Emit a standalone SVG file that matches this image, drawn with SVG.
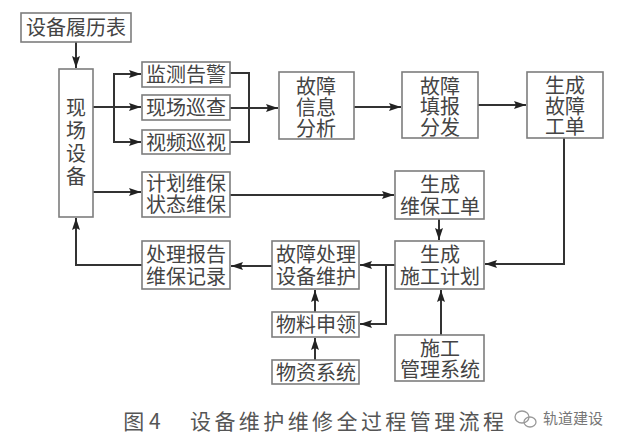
<svg xmlns="http://www.w3.org/2000/svg" width="622" height="446" viewBox="0 0 622 446">
<style>
.b{fill:#fff;stroke:#7d7d7d;stroke-width:1.6}
text{font-family:"Noto Sans CJK SC","Noto Sans",sans-serif;font-size:20px;fill:#444;text-anchor:middle;font-weight:400}
.c{fill:none;stroke:#333;stroke-width:2}
.cap{font-size:21px;fill:#555}
.wm{font-size:15px;fill:#777}
</style>
<defs>
<marker id="a" markerUnits="userSpaceOnUse" markerWidth="13" markerHeight="8" refX="12" refY="4" orient="auto"><path d="M0 0L12 4L0 8L2 4Z" fill="#222"/></marker>
</defs>
<rect width="622" height="446" fill="#fff"/>
<g id="connectors">
<path class="c" d="M76 42V68" marker-end="url(#a)"/>
<path class="c" d="M93 107H141" marker-end="url(#a)"/>
<path class="c" d="M141 74H114V142H141" marker-end="url(#a)"/>
<path class="c" d="M114 74H141" marker-end="url(#a)"/>
<path class="c" d="M230 73H249V142H230"/>
<path class="c" d="M230 108H278" marker-end="url(#a)"/>
<path class="c" d="M354 107H401" marker-end="url(#a)"/>
<path class="c" d="M478 105H526" marker-end="url(#a)"/>
<path class="c" d="M93 192H141" marker-end="url(#a)"/>
<path class="c" d="M230 195H394" marker-end="url(#a)"/>
<path class="c" d="M439 219V240" marker-end="url(#a)"/>
<path class="c" d="M564 138V264H485" marker-end="url(#a)"/>
<path class="c" d="M395 265H360" marker-end="url(#a)"/>
<path class="c" d="M386 265V324H360" marker-end="url(#a)"/>
<path class="c" d="M272 266H231" marker-end="url(#a)"/>
<path class="c" d="M142 265H76V218" marker-end="url(#a)"/>
<path class="c" d="M315 312V290" marker-end="url(#a)"/>
<path class="c" d="M315 360V338" marker-end="url(#a)"/>
<path class="c" d="M441 335V290" marker-end="url(#a)"/>
</g>
<g id="n1"><rect class="b" x="21" y="13" width="110" height="29"/><text x="76" y="35">设备履历表</text></g>
<g id="n2"><rect class="b" x="59" y="69" width="34" height="148"/><text x="76"><tspan x="76" y="115">现</tspan><tspan x="76" y="138">场</tspan><tspan x="76" y="161">设</tspan><tspan x="76" y="184">备</tspan></text></g>
<g id="n3"><rect class="b" x="142" y="62" width="88" height="25"/><text x="186" y="82">监测告警</text></g>
<g id="n4"><rect class="b" x="142" y="95" width="88" height="25"/><text x="186" y="115">现场巡查</text></g>
<g id="n5"><rect class="b" x="142" y="130" width="88" height="24"/><text x="186" y="150">视频巡视</text></g>
<g id="n6"><rect class="b" x="142" y="172" width="88" height="45"/><text><tspan x="186" y="191">计划维保</tspan><tspan x="186" y="212">状态维保</tspan></text></g>
<g id="n7"><rect class="b" x="279" y="72" width="75" height="67"/><text><tspan x="316" y="94">故障</tspan><tspan x="316" y="115">信息</tspan><tspan x="316" y="136">分析</tspan></text></g>
<g id="n8"><rect class="b" x="402" y="72" width="76" height="66"/><text><tspan x="440" y="94">故障</tspan><tspan x="440" y="114">填报</tspan><tspan x="440" y="135">分发</tspan></text></g>
<g id="n9"><rect class="b" x="527" y="72" width="76" height="66"/><text><tspan x="565" y="93">生成</tspan><tspan x="565" y="114">故障</tspan><tspan x="565" y="134">工单</tspan></text></g>
<g id="n10"><rect class="b" x="395" y="171" width="89" height="48"/><text><tspan x="440" y="192">生成</tspan><tspan x="440" y="214">维保工单</tspan></text></g>
<g id="n11"><rect class="b" x="395" y="241" width="89" height="48"/><text><tspan x="440" y="262">生成</tspan><tspan x="440" y="284">施工计划</tspan></text></g>
<g id="n12"><rect class="b" x="272" y="241" width="87" height="48"/><text><tspan x="316" y="262">故障处理</tspan><tspan x="316" y="284">设备维护</tspan></text></g>
<g id="n13"><rect class="b" x="142" y="241" width="88" height="48"/><text><tspan x="186" y="262">处理报告</tspan><tspan x="186" y="284">维保记录</tspan></text></g>
<g id="n14"><rect class="b" x="272" y="312" width="87" height="25"/><text x="316" y="332">物料申领</text></g>
<g id="n15"><rect class="b" x="272" y="360" width="87" height="24"/><text x="316" y="380">物资系统</text></g>
<g id="n16"><rect class="b" x="395" y="335" width="89" height="46"/><text><tspan x="440" y="356">施工</tspan><tspan x="440" y="377">管理系统</tspan></text></g>
<text class="cap" x="142" y="429">图 4</text>
<text class="cap" x="347" y="429" textLength="314" lengthAdjust="spacing">设备维护维修全过程管理流程</text>
<g fill="none" stroke="#999" stroke-width="1.3"><ellipse cx="522" cy="417" rx="7" ry="6"/><ellipse cx="530" cy="422" rx="6" ry="5"/></g>
<text class="wm" x="573" y="424" textLength="60" lengthAdjust="spacing">轨道建设</text>
</svg>
